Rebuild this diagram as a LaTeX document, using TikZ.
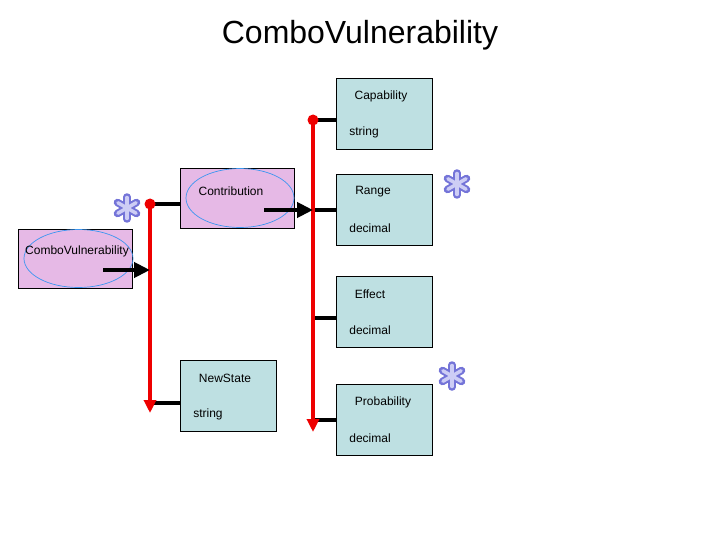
\documentclass[tikz,border=0pt]{standalone}
\usepackage{fontspec}
\setmainfont{Liberation Sans}
\usetikzlibrary{arrows.meta,shapes.geometric}
\definecolor{lav}{HTML}{E6B9E6}
\definecolor{cyanbox}{HTML}{BEE0E2}
\definecolor{elblue}{HTML}{3C96F0}
\definecolor{redline}{HTML}{EE0000}
\definecolor{astdark}{HTML}{7474D8}
\definecolor{astlight}{HTML}{CDCDF5}
\begin{document}
\begin{tikzpicture}[x=1pt,y=-1pt,
  entbox/.style={draw=black, line width=0.9pt, fill=lav, anchor=north west, inner sep=0pt},
  attbox/.style={draw=black, line width=0.9pt, fill=cyanbox, anchor=north west, inner sep=0pt, minimum width=96pt, minimum height=71pt},
  ell/.style={draw=elblue, line width=0.7pt, ellipse, inner sep=0pt},
  lbl/.style={font=\fontsize{12}{14}\selectfont, inner sep=0pt},
  redl/.style={draw=redline, line width=3.2pt},
  redtip/.style={-{Triangle[length=13pt,width=12pt]}},
  conn/.style={draw=black, line width=3.2pt},
  bigarrow/.style={draw=black, line width=4pt, -{Triangle[length=16pt,width=15pt]}},
  dot/.style={circle, fill=redline, inner sep=0pt, minimum size=11pt},
  asterisk/.pic={
    \foreach \a in {90,30,150} {
      \draw[astdark, line width=7.5pt, line cap=round] (\a:11) -- (\a+180:11);
    }
    \foreach \a in {90,30,150} {
      \draw[astlight, line width=3.5pt, line cap=round] (\a:10.5) -- (\a+180:10.5);
    }
  }]
\useasboundingbox (0,0) rectangle (720,540);
\fill[white] (0,0) rectangle (720,540);

\node[font=\fontsize{32}{36}\selectfont] (title) at (360,35) {ComboVulnerability};

% entity boxes
\node[entbox, minimum width=114pt, minimum height=59pt] (cv) at (18,229) {};
\node[ell, minimum width=109pt, minimum height=58pt] (cvell) at (78.5,258.5) {};
\node[lbl] (cvtxt) at (77,251) {ComboVulnerability};

\node[entbox, minimum width=114pt, minimum height=60pt] (con) at (180,168) {};
\node[ell, minimum width=108pt, minimum height=59pt] (conell) at (240,198) {};
\node[lbl] (contxt) at (231,191) {Contribution};

% attribute boxes
\node[attbox] (cap) at (336,78) {};
\node[lbl] (captxt) at (381,96) {Capability};
\node[lbl] (capty) at (364,132) {string};

\node[attbox] (rng) at (336,174) {};
\node[lbl] (rngtxt) at (373,192) {Range};
\node[lbl] (rngty) at (370,228) {decimal};

\node[attbox] (eff) at (336,276) {};
\node[lbl] (efftxt) at (370,294) {Effect};
\node[lbl] (effty) at (370,330) {decimal};

\node[attbox] (prob) at (336,384) {};
\node[lbl] (probtxt) at (383,402) {Probability};
\node[lbl] (probty) at (370,438) {decimal};

\node[attbox] (ns) at (180,360) {};
\node[lbl] (nstxt) at (225,378) {NewState};
\node[lbl] (nsty) at (208,414) {string};

% coordinates on the red lines
\coordinate (d1) at (150,204);
\coordinate (e1) at (150,413);
\coordinate (d2) at (313,120);
\coordinate (e2) at (313,432);
\coordinate (j1) at (150,270);
\coordinate (j2) at (313,210);
\coordinate (s1) at (103,270);
\coordinate (s2) at (264,210);

% black connectors
\draw[conn] (d1) -- (d1 -| con.west);
\draw[conn] (150,403) -- (150,403 -| ns.west);
\draw[conn] (d2) -- (d2 -| cap.west);
\draw[conn] (j2) -- (j2 -| rng.west);
\draw[conn] (313,318) -- (313,318 -| eff.west);
\draw[conn] (313,420) -- (313,420 -| prob.west);

% red lines
\draw[redl, redtip] (d1) -- (e1);
\draw[redl, redtip] (d2) -- (e2);
\node[dot] (dot1) at (d1) {};
\node[dot] (dot2) at (d2) {};

% big arrows
\draw[bigarrow] (s1) -- (j1);
\draw[bigarrow] (s2) -- (j2);

% asterisks
\pic at (127,208) {asterisk};
\pic at (457,184) {asterisk};
\pic at (452,376) {asterisk};
\end{tikzpicture}
\end{document}
